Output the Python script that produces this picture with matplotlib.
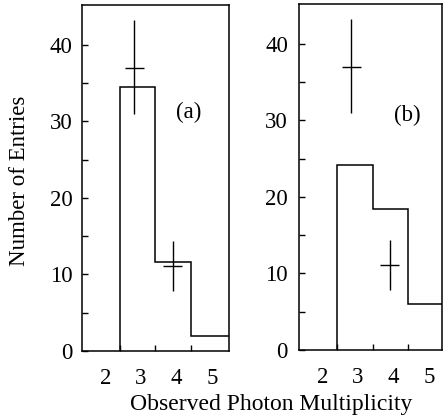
import matplotlib
matplotlib.use("Agg")
import matplotlib.pyplot as plt
import matplotlib.transforms as mtransforms
import numpy as np

plt.rcParams['font.family'] = ['Liberation Serif', 'DejaVu Serif']

# Data
bin_edges = [2.5, 3.5, 4.5, 5.8]
hist_a = [34.5, 11.6, 2.0]
hist_b = [24.2, 18.4, 6.0]
data_x = [2.9, 3.98]
data_y = [37.0, 11.1]
data_yerr_lo = [6.0, 3.3]
data_yerr_hi = [6.2, 3.3]
data_xerr = [0.27, 0.26]
xtick_vals = [2, 3, 4, 5]
ytick_vals = [0, 10, 20, 30, 40]
panel_labels = ["(a)", "(b)"]

fig = plt.figure(figsize=(4.43, 4.19), dpi=100)
W, H = 443, 419

def add_ax(l, r, t, b):
    return fig.add_axes([l / W, 1 - b / H, (r - l) / W, (b - t) / H])

ax_a = add_ax(82, 229, 5, 351)
ax_b = add_ax(299, 442.5, 4, 350)

def draw(ax, hist, label, xmax, lab_pos):
    xs = [bin_edges[0]]
    ys = [0]
    for i, h in enumerate(hist):
        xs += [bin_edges[i], bin_edges[i + 1]]
        ys += [h, h]
    ax.plot(xs, ys, color='black', lw=1.1, solid_joinstyle='miter')
    ax.errorbar(data_x, data_y, yerr=[data_yerr_lo, data_yerr_hi], xerr=data_xerr,
                fmt='none', ecolor='black', elinewidth=1.0, capsize=0)
    ax.set_xlim(1.43, xmax)
    ax.set_ylim(0, 45.2)
    ax.set_xticks(xtick_vals)
    ax.set_xticklabels([str(v) for v in xtick_vals], fontsize=16.5)
    ax.set_xticks([2.5, 3.5, 4.5], minor=True)
    ax.set_yticks(ytick_vals)
    ax.set_yticklabels([str(v) for v in ytick_vals], fontsize=16.5)
    ax.set_yticks([5, 15, 25, 35], minor=True)
    ax.tick_params(axis='x', which='major', length=0, pad=12)
    ax.tick_params(axis='x', which='minor', direction='in', length=4, width=1.0)
    ax.tick_params(axis='y', which='both', direction='in', length=4, width=1.0, pad=7)
    off = mtransforms.ScaledTranslation(3 / 100, 0, fig.dpi_scale_trans)
    for t in ax.get_xticklabels():
        t.set_transform(t.get_transform() + off)
    for s in ax.spines.values():
        s.set_linewidth(1.1)
    ax.text(lab_pos[0], lab_pos[1], label, fontsize=16.5, ha='center', va='center')

draw(ax_a, hist_a, panel_labels[0], 5.57, (4.44, 31.1))
draw(ax_b, hist_b, panel_labels[1], 5.47, (4.47, 30.6))
ax_b.tick_params(axis='y', which='both', pad=8)

fig.text(20 / W, 1 - 181 / H, "Number of Entries", rotation=90, fontsize=16.5,
         ha='center', va='center')
fig.text(271 / W, 1 - 404 / H, "Observed Photon Multiplicity", fontsize=17,
         ha='center', va='center')

fig.savefig("out.png", dpi=100)
